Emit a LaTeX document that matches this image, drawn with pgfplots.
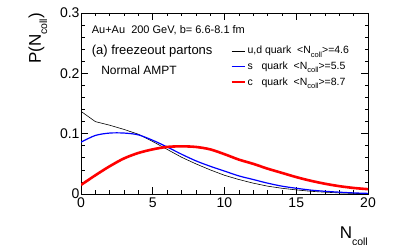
\documentclass[border=0pt]{standalone}
\usepackage{fontspec}
\setmainfont{Liberation Sans}
\usepackage{pgfplots}
\pgfplotsset{compat=1.18}
\newcommand{\sub}[1]{\raisebox{-0.6ex}{\fontsize{7.5}{7.5}\selectfont #1}}
\begin{document}
\begin{tikzpicture}[x=1pt,y=1pt]
\useasboundingbox (0,0) rectangle (409,245);
\begin{axis}[
  at={(81pt,51pt)}, anchor=south west, scale only axis,
  width=287pt, height=181pt,
  xmin=0, xmax=20, ymin=0, ymax=0.3,
  xtick={0,5,10,15,20}, xticklabels={0,5,10,15,20},
  ytick={0,0.1,0.2,0.3}, yticklabels={0,0.1,0.2,0.3},
  minor x tick num=4, minor y tick num=4,
  tick align=inside, tick pos=both,
  xticklabel pos=bottom, yticklabel pos=left,
  major tick length=7pt, minor tick length=3.5pt,
  tick style={black, line width=0.6pt},
  axis line style={line width=0.8pt},
  tick label style={font=\fontsize{14}{14}\selectfont},
  /pgf/number format/assume math mode=true,
  yticklabel style={xshift=2pt},
  xticklabel style={yshift=0pt},
  xlabel={N\raisebox{-0.7ex}{\fontsize{10.5}{10.5}\selectfont coll}},
  xlabel style={at={(axis description cs:1,0)}, anchor=north east, yshift=-33pt, inner sep=0pt, font=\fontsize{17}{17}\selectfont},
  ylabel={P(N\raisebox{-0.7ex}{\fontsize{10.5}{10.5}\selectfont coll})},
  ylabel style={at={(axis description cs:-0.15,1)}, anchor=east, rotate=0, inner sep=0pt, font=\fontsize{17}{17}\selectfont},
  legend style={at={(rel axis cs:0.52,0.825)}, anchor=north west, draw=none, fill=none,
    font=\fontsize{10.5}{10.5}\selectfont, row sep=3.5pt, inner sep=0pt,
    nodes={inner sep=1.5pt}},
  legend cell align=left,
  legend image code/.code={\draw[#1] (0pt,0pt) -- (13pt,0pt);},
]
\addplot[black, line width=0.6pt] coordinates {
(0,0.137) (1,0.120) (2,0.114) (3,0.107) (4,0.099) (5,0.087) (6,0.074) (7,0.061)
(8,0.050) (9,0.040) (10,0.031) (11,0.024) (12,0.018) (13,0.013) (14,0.0095)
(15,0.0068) (16,0.0045) (17,0.003) (18,0.0018) (19,0.001) (20,0.0005)};
\addlegendentry{u,d quark~~<N\sub{coll}>=4.6}
\addplot[blue, line width=1.2pt, smooth] coordinates {
(0,0.086) (1,0.097) (2,0.101) (3,0.101) (4,0.098) (5,0.089) (6,0.078) (7,0.066)
(8,0.055) (9,0.046) (10,0.038) (11,0.030) (12,0.024) (13,0.018) (14,0.013)
(15,0.0095) (16,0.0065) (17,0.0045) (18,0.003) (19,0.0018) (20,0.001)};
\addlegendentry{s~~~quark~~<N\sub{coll}>=5.5}
\addplot[red, line width=2.6pt, smooth] coordinates {
(0,0.015) (1,0.031) (2,0.046) (3,0.059) (4,0.068) (5,0.074) (6,0.078) (7,0.079)
(8,0.078) (9,0.074) (10,0.066) (11,0.057) (12,0.050) (13,0.042) (14,0.035)
(15,0.028) (16,0.022) (17,0.017) (18,0.013) (19,0.010) (20,0.008)};
\addlegendentry{c~~~quark~~<N\sub{coll}>=8.7}
\node[anchor=west, inner sep=0pt, font=\fontsize{11}{11}\selectfont] at (rel axis cs:0.037,0.906) {Au+Au~~200 GeV, b= 6.6-8.1 fm};
\node[anchor=west, inner sep=0pt, font=\fontsize{13}{13}\selectfont] at (rel axis cs:0.037,0.790) {(a) freezeout partons};
\node[anchor=west, inner sep=0pt, font=\fontsize{12}{12}\selectfont] at (rel axis cs:0.070,0.685) {Normal AMPT};
\end{axis}
\end{tikzpicture}
\end{document}
